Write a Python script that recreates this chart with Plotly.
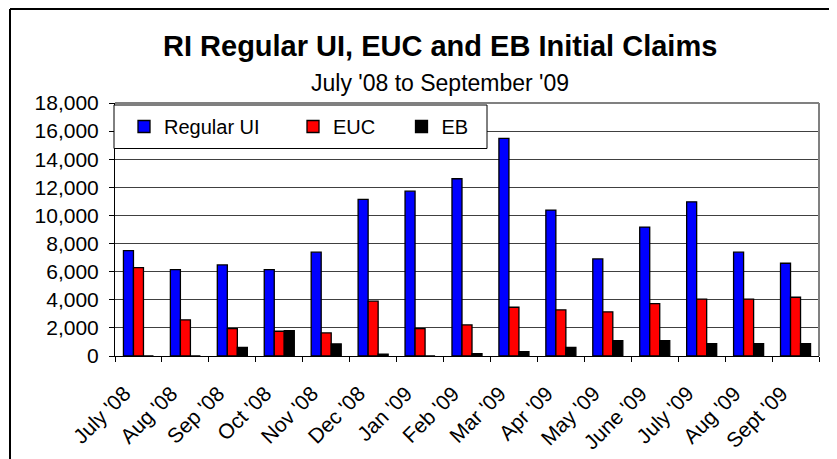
import plotly.graph_objects as go

months = ["July '08", "Aug '08", "Sep '08", "Oct '08", "Nov '08", "Dec '08", "Jan '09",
          "Feb '09", "Mar '09", "Apr '09", "May '09", "June '09", "July '09", "Aug '09", "Sept '09"]
regular_ui = [7500, 6150, 6480, 6150, 7390, 11140, 11730, 12610, 15490, 10380, 6910, 9170, 10970, 7390, 6600]
euc = [6290, 2570, 1950, 1760, 1640, 3900, 1950, 2210, 3470, 3280, 3140, 3730, 4040, 4040, 4180]
eb = [0, 0, 620, 1800, 860, 140, 0, 170, 310, 620, 1090, 1090, 880, 880, 880]

series_names = ["Regular UI", "EUC", "EB"]
series_colors = ["#0000FF", "#FF0000", "#000000"]
series_values = [regular_ui, euc, eb]

FONT = "Arial, Liberation Sans, sans-serif"
OFF = 8  # page body margin offset
W, H = 837 + OFF, 459 + OFF
# plot area in page pixels: left 115, right 819, top 103, bottom 356
L = 115 - OFF
T = 103 - OFF
R = W - (819 - OFF)
B = H - (356 - OFF)
PW, PH = W - L - R, H - T - B


def px(x):
    return (x - OFF - L) / PW


def py(y):
    return (H - B - (y - OFF)) / PH


fig = go.Figure()
legend_ids = ["legend", "legend2", "legend3"]
for name, color, vals, lg in zip(series_names, series_colors, series_values, legend_ids):
    fig.add_trace(go.Bar(
        x=months, y=vals, name=name, legend=lg,
        marker=dict(color=color, line=dict(color="black", width=1.3)),
    ))

# legend symbol centres (page pixels)
sym_centres = [148, 317, 425.5]
legend_common = dict(
    orientation="h", bgcolor="rgba(0,0,0,0)", borderwidth=0,
    font=dict(family=FONT, size=20, color="black"),
    xanchor="left", yanchor="middle", y=py(126.5),
)
layout_legends = {}
for lg, cx in zip(legend_ids, sym_centres):
    layout_legends[lg] = dict(legend_common, x=px(cx - 24))

fig.update_layout(
    width=W, height=H,
    margin=dict(l=L, r=R, t=T, b=B, autoexpand=False),
    paper_bgcolor="white", plot_bgcolor="white",
    barmode="group", bargap=0.36, bargroupgap=0,
    font=dict(family=FONT, color="black"),
    showlegend=True,
    **layout_legends,
)

fig.update_yaxes(
    range=[0, 18000], dtick=2000, tickformat=",",
    showgrid=True, gridcolor="#404040", gridwidth=1,
    showline=True, linecolor="black", linewidth=1,
    ticks="outside", ticklen=5, tickcolor="black",
    tickfont=dict(family=FONT, size=21, color="black"),
    ticklabelstandoff=6, zeroline=False, automargin=False,
)
fig.update_xaxes(
    type="category", showgrid=False,
    showline=True, linecolor="black", linewidth=1,
    ticks="outside", ticklen=5, tickcolor="black", tickson="boundaries",
    tickangle=-45, tickfont=dict(family=FONT, size=21, color="black"),
    ticklabelstandoff=16, ticklabelshift=-14, automargin=False,
)

BORDER_TOP = 9  # page y of outer border top edge (cannot go above the figure)
shapes = [
    # plot area top / right border (gray)
    dict(type="line", xref="paper", yref="paper", x0=0, x1=1, y0=1, y1=1,
         line=dict(color="#808080", width=2)),
    dict(type="line", xref="paper", yref="paper", x0=1, x1=1, y0=0, y1=1,
         line=dict(color="#808080", width=2)),
    # legend box
    dict(type="rect", xref="paper", yref="paper", layer="above",
         x0=px(114), x1=px(487), y0=py(148.5), y1=py(105),
         fillcolor="white", line=dict(color="black", width=1)),
    # outer chart border (left and top edges visible)
    dict(type="line", xref="paper", yref="paper", x0=px(10), x1=px(10),
         y0=py(BORDER_TOP), y1=py(480), line=dict(color="black", width=2)),
    dict(type="line", xref="paper", yref="paper", x0=px(10), x1=px(860),
         y0=py(BORDER_TOP), y1=py(BORDER_TOP), line=dict(color="black", width=2)),
]
fig.update_layout(shapes=shapes)

fig.add_annotation(text="<b>RI Regular UI, EUC and EB Initial Claims</b>",
                   xref="paper", yref="paper", x=px(440), y=py(46),
                   xanchor="center", yanchor="middle", showarrow=False,
                   font=dict(family=FONT, size=29, color="black"))
fig.add_annotation(text="July '08 to September '09",
                   xref="paper", yref="paper", x=px(440), y=py(83),
                   xanchor="center", yanchor="middle", showarrow=False,
                   font=dict(family=FONT, size=23, color="black"))

fig.write_html("out.html")
